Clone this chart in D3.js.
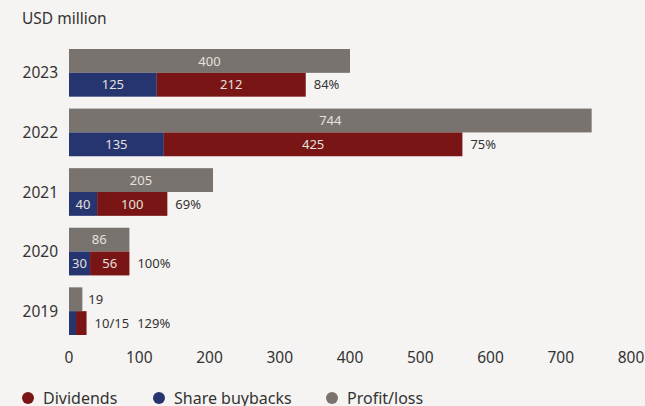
<!DOCTYPE html>
<html>
<head>
<meta charset="utf-8">
<script src="https://cdn.jsdelivr.net/npm/d3@7"></script>
<style>
  html, body { margin: 0; padding: 0; background: #f5f4f2; }
  svg { display: block; font-family: "Noto Sans", "Open Sans", sans-serif; }
</style>
</head>
<body>
<svg id="chart" width="645" height="406"></svg>
<script>
// Shareholder distributions vs. profit, USD million
const years = ["2023", "2022", "2021", "2020", "2019"];
const profit = [400, 744, 205, 86, 19];
const buybacks = [125, 135, 40, 30, 10];
const dividends = [212, 425, 100, 56, 15];
const payoutRatio = ["84%", "75%", "69%", "100%", "129%"];
const xTicks = [0, 100, 200, 300, 400, 500, 600, 700, 800];
const legendItems = ["Dividends", "Share buybacks", "Profit/loss"];

const colors = { profit: "#79736f", buy: "#263470", div: "#7a1515" };
const inText = "#e4e1de", outText = "#333";

const svg = d3.select("#chart");

const x = d3.scaleLinear().domain([0, 800]).range([69, 631]);
const y = d3.scaleBand().domain(years).range([49, 335]).paddingInner(0.2).paddingOuter(0);
const half = y.bandwidth() / 2;

svg.append("text").attr("x", 22).attr("y", 24)
  .attr("font-size", 15.5).attr("fill", outText).text("USD million");

const rows = svg.selectAll("g.row").data(years).join("g")
  .attr("class", "row")
  .attr("transform", d => `translate(0,${y(d)})`);

// year labels
rows.append("text")
  .attr("x", 58).attr("y", half).attr("dy", "0.36em")
  .attr("text-anchor", "end").attr("font-size", 15.5).attr("fill", outText)
  .text(d => d);

// profit bar
rows.append("rect")
  .attr("x", x(0)).attr("y", 0)
  .attr("width", (d, i) => x(profit[i]) - x(0)).attr("height", half)
  .attr("fill", colors.profit);

// buybacks bar
rows.append("rect")
  .attr("x", x(0)).attr("y", half)
  .attr("width", (d, i) => x(buybacks[i]) - x(0)).attr("height", half)
  .attr("fill", colors.buy);

// dividends bar, stacked after buybacks
rows.append("rect")
  .attr("x", (d, i) => x(buybacks[i])).attr("y", half)
  .attr("width", (d, i) => x(buybacks[i] + dividends[i]) - x(buybacks[i])).attr("height", half)
  .attr("fill", colors.div);

const small = i => profit[i] < 50;

// profit values
rows.append("text")
  .attr("x", (d, i) => small(i) ? x(profit[i]) + 6 : (x(0) + x(profit[i])) / 2)
  .attr("y", half / 2).attr("dy", "0.36em")
  .attr("text-anchor", (d, i) => small(i) ? "start" : "middle")
  .attr("font-size", 13).attr("fill", (d, i) => small(i) ? outText : inText)
  .text((d, i) => profit[i]);

// buyback values inside bars
rows.filter((d, i) => !small(i)).append("text")
  .attr("x", d => { const i = years.indexOf(d); return (x(0) + x(buybacks[i])) / 2; })
  .attr("y", half * 1.5).attr("dy", "0.36em")
  .attr("text-anchor", "middle").attr("font-size", 13).attr("fill", inText)
  .text(d => buybacks[years.indexOf(d)]);

// dividend values inside bars
rows.filter((d, i) => !small(i)).append("text")
  .attr("x", d => { const i = years.indexOf(d); return (x(buybacks[i]) + x(buybacks[i] + dividends[i])) / 2; })
  .attr("y", half * 1.5).attr("dy", "0.36em")
  .attr("text-anchor", "middle").attr("font-size", 13).attr("fill", inText)
  .text(d => dividends[years.indexOf(d)]);

// small-year combined label and payout ratio
rows.each(function (d, i) {
  const g = d3.select(this);
  let px = x(buybacks[i] + dividends[i]) + 8;
  if (small(i)) {
    const t = g.append("text")
      .attr("x", px).attr("y", half * 1.5).attr("dy", "0.36em")
      .attr("font-size", 13).attr("fill", outText)
      .text(`${buybacks[i]}/${dividends[i]}`);
    px += t.node().getComputedTextLength() + 8;
  }
  g.append("text")
    .attr("x", px).attr("y", half * 1.5).attr("dy", "0.36em")
    .attr("font-size", 13).attr("fill", outText)
    .text(payoutRatio[i]);
});

// x axis labels
svg.append("g").selectAll("text").data(xTicks).join("text")
  .attr("x", d => x(d)).attr("y", 357).attr("dy", "0.36em")
  .attr("text-anchor", "middle").attr("font-size", 15.5).attr("fill", outText)
  .text(d => d);

// legend
const legendColors = [colors.div, colors.buy, colors.profit];
const legendX = [28, 159, 332];
const lg = svg.append("g").selectAll("g").data(legendItems).join("g")
  .attr("transform", (d, i) => `translate(${legendX[i]},398)`);
lg.append("circle").attr("r", 6).attr("fill", (d, i) => legendColors[i]);
lg.append("text").attr("x", 15).attr("dy", "0.36em")
  .attr("font-size", 16).attr("fill", outText).text(d => d);
</script>
</body>
</html>
